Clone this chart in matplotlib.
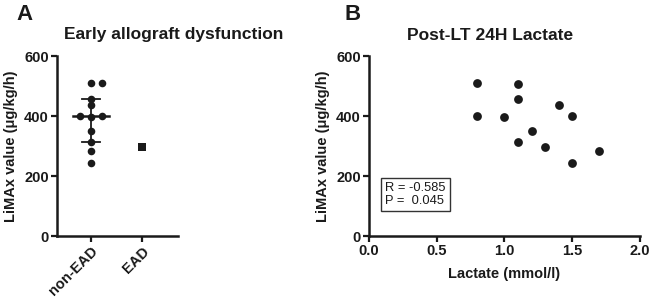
import matplotlib
matplotlib.use("Agg")
import matplotlib.pyplot as plt
import numpy as np

plt.rcParams['font.family'] = ['Liberation Sans', 'DejaVu Sans']

# Panel A data
groups = ["non-EAD", "EAD"]
non_ead = [510, 510, 457, 438, 399, 399, 395, 349, 313, 282, 242]
non_ead_jitter = [0, 0.21, 0, 0, -0.21, 0.21, 0, 0, 0, 0, 0]
ead = [298]

# Panel B data
lactate = [0.8, 0.8, 1.0, 1.1, 1.1, 1.1, 1.2, 1.3, 1.4, 1.5, 1.5, 1.7]
limax = [510, 399, 395, 508, 457, 313, 349, 298, 438, 399, 242, 282]
r_text = "R = -0.585\nP =  0.045"

fig = plt.figure(figsize=(6.49, 3.01), dpi=100)
INK = '#1a1a1a'

def style(ax):
    for s in ['top', 'right']:
        ax.spines[s].set_visible(False)
    for s in ['left', 'bottom']:
        ax.spines[s].set_linewidth(1.8)
        ax.spines[s].set_color(INK)
    ax.tick_params(width=1.6, length=4, labelsize=10.5, pad=2, colors=INK)
    for lab in ax.get_xticklabels() + ax.get_yticklabels():
        lab.set_fontweight('bold')

# Panel A
axA = fig.add_axes([57/649, 1-236/301, 121/649, 180/301])
xs = np.array(non_ead_jitter) + 0
axA.scatter(xs, non_ead, s=30, color=INK, zorder=3, linewidths=0)
axA.scatter([1]*len(ead), ead, s=26, marker='s', color=INK, zorder=3, linewidths=0)
q1, med, q3 = np.percentile(non_ead, [25, 50, 75], method='weibull')
axA.plot([-0.35, 0.35], [med, med], color=INK, lw=1.8, zorder=2)
axA.plot([-0.17, 0.17], [q1, q1], color=INK, lw=1.3, zorder=2)
axA.plot([-0.17, 0.17], [q3, q3], color=INK, lw=1.3, zorder=2)
axA.plot([0, 0], [q1, q3], color=INK, lw=1.3, zorder=2)
axA.set_xlim(-0.67, 1.71)
axA.set_ylim(0, 600)
axA.set_yticks([0, 200, 400, 600])
axA.set_xticks([0, 1])
axA.set_xticklabels(groups, rotation=45, ha='right', rotation_mode='anchor')
axA.set_ylabel("LiMAx value (μg/kg/h)", fontsize=10.5, fontweight='bold', labelpad=4, color=INK)
style(axA)
fig.text(174/649, 1-35/301, "Early allograft dysfunction", fontsize=12.5, fontweight='bold',
         ha='center', va='center', color=INK)
fig.text(16/649, 1-14/301, "A", fontsize=16, fontweight='bold', va='center', ha='left', color=INK)

# Panel B
axB = fig.add_axes([369/649, 1-236/301, 271/649, 180/301])
axB.scatter(lactate, limax, s=40, color=INK, zorder=3, linewidths=0)
axB.set_xlim(0, 2.0)
axB.set_ylim(0, 600)
axB.set_xticks([0.0, 0.5, 1.0, 1.5, 2.0])
axB.set_xticklabels(["0.0", "0.5", "1.0", "1.5", "2.0"])
axB.set_yticks([0, 200, 400, 600])
axB.set_xlabel("Lactate (mmol/l)", fontsize=10.5, fontweight='bold', labelpad=6, color=INK)
axB.set_ylabel("LiMAx value (μg/kg/h)", fontsize=10.5, fontweight='bold', labelpad=4, color=INK)
axB.text(0.06, 0.23, r_text, transform=axB.transAxes, fontsize=9.3, va='center', ha='left',
         linespacing=1.1, color=INK,
         bbox=dict(boxstyle='square,pad=0.3', facecolor='white', edgecolor='#333333', lw=1))
style(axB)
fig.text(490/649, 1-35/301, "Post-LT 24H Lactate", fontsize=12.5, fontweight='bold',
         ha='center', va='center', color=INK)
fig.text(345/649, 1-14/301, "B", fontsize=16, fontweight='bold', va='center', ha='left', color=INK)

fig.savefig("out.png", dpi=100)
